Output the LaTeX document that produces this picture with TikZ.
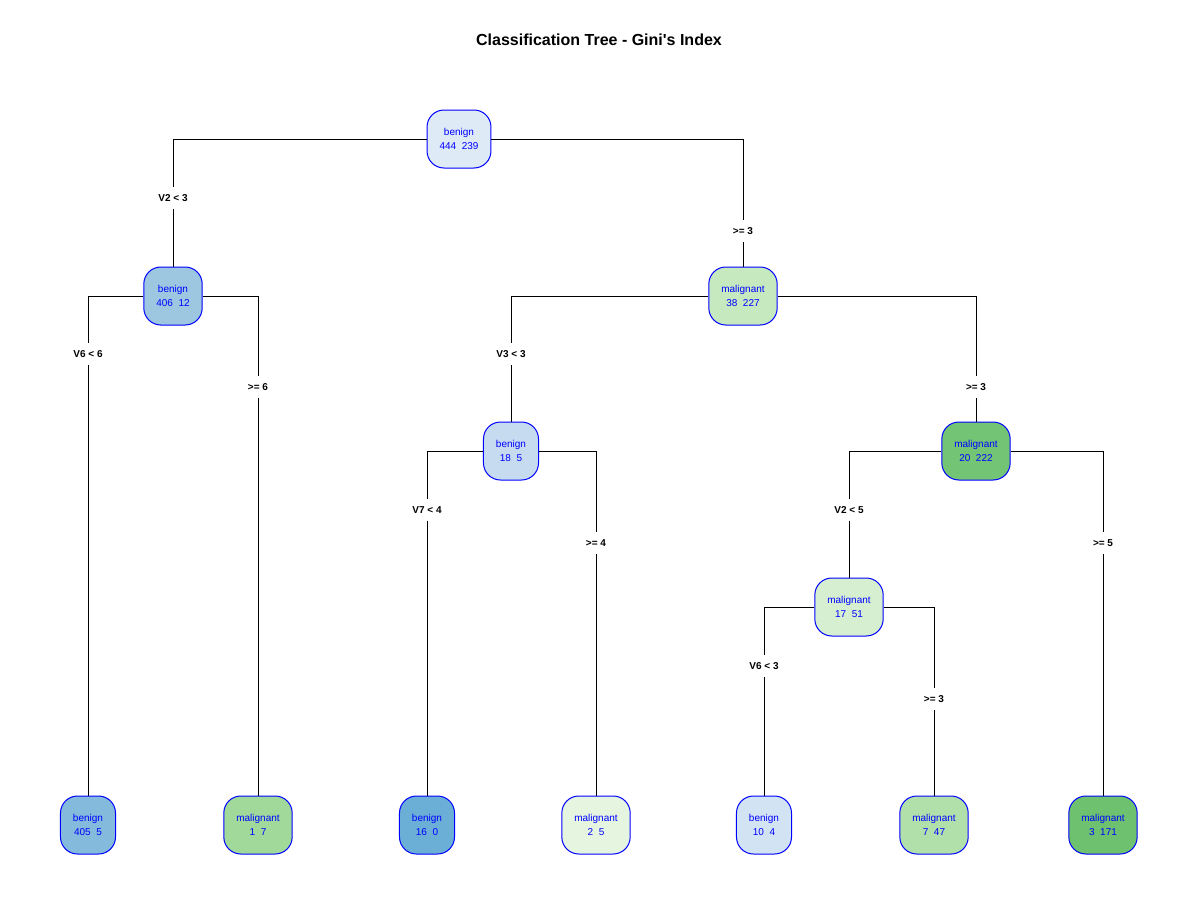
\documentclass[tikz,border=0pt]{standalone}
\usepackage{fontspec}
\setmainfont{Liberation Sans}
\usepackage{tikz}

\definecolor{bA}{HTML}{DEEBF7}
\definecolor{bB}{HTML}{9DC7E1}
\definecolor{bC}{HTML}{84BADB}
\definecolor{bD}{HTML}{6BAED6}
\definecolor{bE}{HTML}{C6DBEF}
\definecolor{bF}{HTML}{D2E3F3}
\definecolor{gA}{HTML}{C7E9C0}
\definecolor{gB}{HTML}{74C476}
\definecolor{gC}{HTML}{D6EFD0}
\definecolor{gD}{HTML}{A1D99B}
\definecolor{gE}{HTML}{E5F5E0}
\definecolor{gF}{HTML}{B2E0AB}
\definecolor{gG}{HTML}{6EC16E}

\begin{document}
\begin{tikzpicture}[x=1pt,y=-1pt]
		\useasboundingbox (0,0) rectangle (1200,900);
		\node[font=\fontsize{16}{19}\selectfont\bfseries] (title) at (599,40) {Classification Tree - Gini\textquotesingle s Index};

		\begin{scope}[every node/.style={draw=blue,rounded corners=17pt,line width=1pt,
		              text=blue,align=center,inner xsep=12.5pt,minimum height=58pt,
		              font=\fontsize{10}{14}\selectfont}]
		    \node[fill=bA] (n1) at (459,139) {benign\\444\ \ 239};
		    \node[fill=bB] (n2) at (173,296) {benign\\406\ \ 12};
		    \node[fill=gA] (n3) at (743,296) {malignant\\38\ \ 227};
		    \node[fill=bC] (n4) at (88,825) {benign\\405\ \ 5};
		    \node[fill=gD] (n5) at (258,825) {malignant\\1\ \ 7};
		    \node[fill=bE] (n6) at (511,451) {benign\\18\ \ 5};
		    \node[fill=gB] (n7) at (976,451) {malignant\\20\ \ 222};
		    \node[fill=bD] (n12) at (427,825) {benign\\16\ \ 0};
		    \node[fill=gE] (n13) at (596,825) {malignant\\2\ \ 5};
		    \node[fill=gC] (n14) at (849,607) {malignant\\17\ \ 51};
		    \node[fill=gG] (n15) at (1103,825) {malignant\\3\ \ 171};
		    \node[fill=bF] (n28) at (764,825) {benign\\10\ \ 4};
		    \node[fill=gF] (n29) at (934,825) {malignant\\7\ \ 47};
		\end{scope}

		\begin{scope}[every node/.style={fill=white,inner sep=7pt,
		              font=\fontsize{10}{12}\selectfont\bfseries}]
		    \node (s1l) at (173,198) {V2 < 3};
		    \node (s1r) at (743,231) {>= 3};
		    \node (s2l) at (88,354) {V6 < 6};
		    \node (s2r) at (258,387) {>= 6};
		    \node (s3l) at (511,354) {V3 < 3};
		    \node (s3r) at (976,387) {>= 3};
		    \node (s6l) at (427,510) {V7 < 4};
		    \node (s6r) at (596,543) {>= 4};
		    \node (s7l) at (849,510) {V2 < 5};
		    \node (s7r) at (1103,543) {>= 5};
		    \node (s14l) at (764,666) {V6 < 3};
		    \node (s14r) at (934,699) {>= 3};
		\end{scope}

		\begin{scope}[every path/.style={draw=black,line width=1pt}]
		    \path (n1) -| (s1l);  \path (s1l) -- (n2);
		    \path (n1) -| (s1r);  \path (s1r) -- (n3);
		    \path (n2) -| (s2l);  \path (s2l) -- (n4);
		    \path (n2) -| (s2r);  \path (s2r) -- (n5);
		    \path (n3) -| (s3l);  \path (s3l) -- (n6);
		    \path (n3) -| (s3r);  \path (s3r) -- (n7);
		    \path (n6) -| (s6l);  \path (s6l) -- (n12);
		    \path (n6) -| (s6r);  \path (s6r) -- (n13);
		    \path (n7) -| (s7l);  \path (s7l) -- (n14);
		    \path (n7) -| (s7r);  \path (s7r) -- (n15);
		    \path (n14) -| (s14l); \path (s14l) -- (n28);
		    \path (n14) -| (s14r); \path (s14r) -- (n29);
		\end{scope}
\end{tikzpicture}
\end{document}
